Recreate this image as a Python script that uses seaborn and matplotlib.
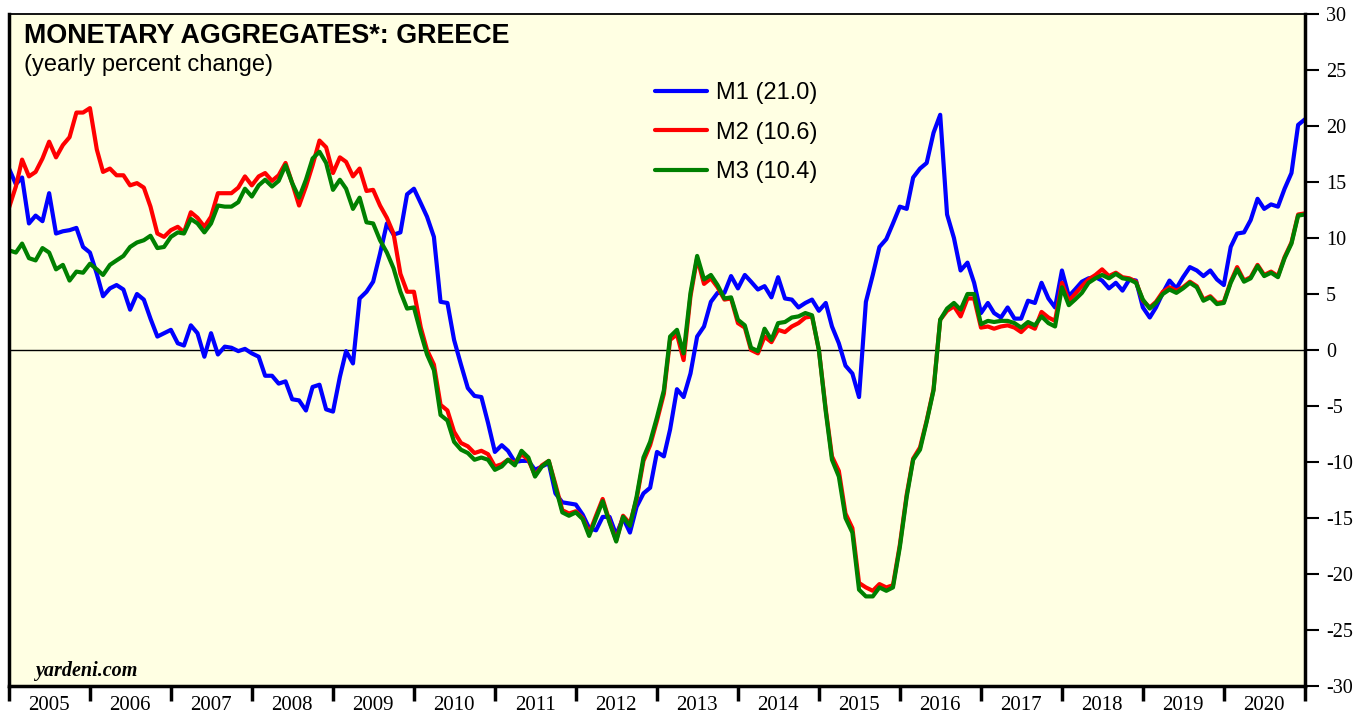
import pandas as pd
import seaborn as sns
import matplotlib.pyplot as plt
import matplotlib.dates as mdates
from matplotlib.lines import Line2D
from matplotlib.ticker import NullFormatter


# Monthly yearly % change, Jan 2005 .. Jan 2021
m1 = [16.2, 14.8, 15.4, 11.3, 12.0, 11.5, 14.0, 10.4, 10.6, 10.7, 10.9, 9.2,
      8.7, 6.8, 4.8, 5.5, 5.8, 5.4, 3.6, 5.0, 4.5, 2.8, 1.2, 1.5,
      1.8, 0.6, 0.4, 2.2, 1.5, -0.6, 1.5, -0.4, 0.3, 0.2, -0.1, 0.1,
      -0.3, -0.6, -2.3, -2.3, -3.0, -2.8, -4.4, -4.5, -5.4, -3.3, -3.1, -5.3,
      -5.5, -2.4, -0.1, -1.2, 4.6, 5.2, 6.1, 8.6, 11.3, 10.3, 10.5, 13.9,
      14.4, 13.1, 11.9, 10.1, 4.3, 4.2, 0.9, -1.3, -3.4, -4.1, -4.2, -6.5,
      -9.1, -8.5, -9.0, -10.0, -9.9, -9.9, -10.7, -10.4, -10.1, -12.8, -13.6, -13.7,
      -13.8, -14.7, -15.9, -16.1, -14.9, -14.9, -16.5, -15.0, -16.3, -14.0, -12.8, -12.3,
      -9.1, -9.5, -7.1, -3.5, -4.2, -2.1, 1.2, 2.1, 4.3, 5.1, 5.1, 6.6,
      5.5, 6.7, 6.1, 5.4, 5.7, 4.7, 6.5, 4.6, 4.5, 3.8, 4.2, 4.5,
      3.5, 4.2, 2.1, 0.6, -1.4, -2.1, -4.2, 4.3, 6.7, 9.2, 9.9, 11.3,
      12.8, 12.6, 15.4, 16.2, 16.7, 19.4, 21.0, 12.1, 10.0, 7.1, 7.8, 6.0,
      3.3, 4.2, 3.3, 2.9, 3.8, 2.8, 2.8, 4.4, 4.2, 6.0, 4.6, 3.8,
      7.1, 4.8, 5.4, 6.1, 6.4, 6.5, 6.2, 5.5, 6.0, 5.3, 6.3, 6.2,
      3.8, 2.9, 3.8, 5.1, 6.2, 5.5, 6.5, 7.4, 7.1, 6.6, 7.1, 6.3,
      5.8, 9.2, 10.4, 10.5, 11.6, 13.5, 12.6, 13.0, 12.8, 14.4, 15.8, 20.1,
      20.6]

m2 = [12.7, 14.6, 17.0, 15.5, 15.9, 17.1, 18.6, 17.2, 18.3, 19.0, 21.2, 21.2,
      21.6, 17.9, 15.9, 16.2, 15.6, 15.6, 14.7, 14.9, 14.5, 12.8, 10.4, 10.1,
      10.7, 11.0, 10.5, 12.3, 11.8, 11.0, 11.9, 14.0, 14.0, 14.0, 14.5, 15.5,
      14.7, 15.5, 15.8, 15.1, 15.6, 16.7, 14.9, 12.9, 14.6, 16.5, 18.7, 18.1,
      15.8, 17.2, 16.8, 15.5, 16.2, 14.2, 14.3, 12.9, 11.8, 10.4, 6.8, 5.2,
      5.2, 2.0, 0.0, -1.3, -4.9, -5.4, -7.3, -8.3, -8.6, -9.2, -9.0, -9.3,
      -10.4, -10.2, -9.8, -10.1, -9.3, -9.8, -11.2, -10.3, -9.9, -12.0, -14.3, -14.6,
      -14.4, -15.0, -16.4, -14.8, -13.3, -15.3, -17.0, -14.8, -15.5, -13.3, -9.9, -8.5,
      -6.3, -3.9, 0.9, 1.4, -0.9, 4.8, 8.2, 5.9, 6.4, 5.6, 4.5, 4.6,
      2.4, 2.0, 0.0, -0.3, 1.2, 0.7, 1.8, 1.6, 2.1, 2.4, 2.9, 3.0,
      0.0, -5.3, -9.5, -10.8, -14.6, -15.9, -20.8, -21.2, -21.5, -20.9, -21.2, -21.0,
      -17.4, -12.9, -9.7, -8.7, -6.3, -3.5, 2.7, 3.5, 3.9, 3.0, 4.6, 4.6,
      2.0, 2.1, 1.9, 2.1, 2.2, 2.0, 1.6, 2.2, 1.9, 3.4, 2.9, 2.6,
      6.0, 4.4, 5.0, 5.7, 6.3, 6.7, 7.2, 6.6, 6.9, 6.5, 6.4, 6.1,
      4.4, 3.8, 4.3, 5.2, 5.6, 5.3, 5.6, 6.1, 5.7, 4.5, 4.8, 4.2,
      4.3, 6.1, 7.4, 6.2, 6.5, 7.6, 6.7, 7.0, 6.6, 8.3, 9.6, 12.1,
      12.2]

m3 = [8.9, 8.7, 9.5, 8.2, 8.0, 9.1, 8.7, 7.2, 7.6, 6.2, 7.0, 6.9,
      7.7, 7.2, 6.7, 7.6, 8.0, 8.4, 9.2, 9.6, 9.8, 10.2, 9.1, 9.2,
      10.1, 10.5, 10.4, 11.7, 11.3, 10.5, 11.3, 12.9, 12.8, 12.8, 13.2, 14.4,
      13.7, 14.7, 15.2, 14.6, 15.1, 16.5, 14.9, 13.6, 15.2, 17.1, 17.7, 16.7,
      14.3, 15.2, 14.4, 12.6, 13.6, 11.4, 11.3, 9.8, 8.7, 7.3, 5.2, 3.7,
      3.8, 1.5, -0.4, -1.8, -5.8, -6.3, -8.2, -8.9, -9.2, -9.8, -9.6, -9.8,
      -10.7, -10.4, -9.8, -10.3, -9.0, -9.6, -11.3, -10.4, -9.9, -12.2, -14.5, -14.8,
      -14.5, -15.1, -16.6, -15.0, -13.5, -15.4, -17.1, -14.9, -15.7, -13.1, -9.6, -8.2,
      -6.0, -3.6, 1.2, 1.8, -0.3, 5.1, 8.4, 6.3, 6.7, 5.8, 4.6, 4.7,
      2.7, 2.2, 0.2, -0.1, 1.9, 0.9, 2.4, 2.5, 2.9, 3.0, 3.3, 3.1,
      0.0, -5.5, -9.8, -11.3, -15.0, -16.3, -21.4, -22.0, -22.0, -21.2, -21.5, -21.2,
      -17.6, -13.1, -9.8, -8.9, -6.4, -3.6, 2.7, 3.7, 4.2, 3.6, 5.0, 5.0,
      2.3, 2.6, 2.5, 2.6, 2.6, 2.4, 2.0, 2.5, 2.2, 3.0, 2.4, 2.1,
      5.6, 4.0, 4.5, 5.1, 6.0, 6.4, 6.7, 6.4, 6.8, 6.4, 6.3, 6.0,
      4.5, 3.7, 4.2, 5.0, 5.4, 5.1, 5.5, 6.0, 5.6, 4.4, 4.7, 4.1,
      4.2, 6.0, 7.2, 6.1, 6.4, 7.5, 6.6, 6.9, 6.5, 8.2, 9.5, 12.0,
      12.1]

series_names = ["M1 (21.0)", "M2 (10.6)", "M3 (10.4)"]
series_colors = ["#0000ff", "#ff0000", "#008000"]
y_ticks = list(range(-30, 31, 5))

dates = pd.date_range("2005-01-01", periods=len(m1), freq="MS")
df = pd.concat([pd.DataFrame({"date": dates, "value": vals, "series": name})
                for vals, name in zip([m1, m2, m3], series_names)])

sns.set_theme(style="ticks")
plt.rcParams["font.family"] = ["Liberation Sans", "DejaVu Sans"]
plt.rcParams["axes.unicode_minus"] = False
plt.rcParams["text.color"] = "black"

fig = plt.figure(figsize=(13.7, 7.15), dpi=100)
ax = fig.add_axes([9 / 1370, 29 / 715, 1296 / 1370, 672 / 715])
ax.set_facecolor("#ffffe3")

ax.axhline(0, color="black", lw=1.0, zorder=1.5)
sns.lineplot(data=df, x="date", y="value", hue="series", hue_order=series_names,
             palette=series_colors, linewidth=3.0, estimator=None,
             legend=False, ax=ax, zorder=2)

ax.set_xlim(dates[0], dates[-1])
ax.set_ylim(-30, 30)
ax.set_xlabel("")
ax.set_ylabel("")

# right-hand value axis
ax.yaxis.tick_right()
ax.set_yticks(y_ticks)
ax.set_yticklabels([str(t) for t in y_ticks])
ax.tick_params(axis="y", which="major", right=True, left=False, length=10,
               width=1.5, pad=5, labelsize=14.5, labelfontfamily="Liberation Serif",
               colors="black")

# year ticks at boundaries, labels centred in each year
ax.xaxis.set_major_locator(mdates.YearLocator())
ax.xaxis.set_major_formatter(NullFormatter())
ax.xaxis.set_minor_locator(mdates.MonthLocator(bymonth=7))
ax.xaxis.set_minor_formatter(mdates.DateFormatter("%Y"))
ax.tick_params(axis="x", which="major", length=11, width=2.5, color="black")
ax.tick_params(axis="x", which="minor", length=0, pad=7, labelsize=15,
               labelfontfamily="Liberation Serif", labelcolor="black")

for side, w in [("left", 2.5), ("right", 2.5), ("bottom", 2.5), ("top", 1.3)]:
    ax.spines[side].set_visible(True)
    ax.spines[side].set_color("black")
    ax.spines[side].set_linewidth(w)

handles = [Line2D([0], [0], color=c, lw=3.0) for c in series_colors]
ax.legend(handles, series_names, loc="upper left",
          bbox_to_anchor=((655 - 9) / 1296, (686 - 82) / 672),
          frameon=False, fontsize=17, handlelength=2.2, handletextpad=0.4,
          labelspacing=0.75, borderpad=0, borderaxespad=0)

fig.text(24 / 1370, 1 - 43 / 715, "MONETARY AGGREGATES*: GREECE",
         fontsize=19.4, fontweight="bold", va="baseline", ha="left")
fig.text(24 / 1370, 1 - 71 / 715, "(yearly percent change)",
         fontsize=17, va="baseline", ha="left")
fig.text(35 / 1370, 1 - 676 / 715, "yardeni.com", fontsize=14.5,
         fontweight="bold", fontstyle="italic", family="Liberation Serif",
         va="baseline", ha="left")

fig.savefig("out.png", dpi=100, facecolor="white")
